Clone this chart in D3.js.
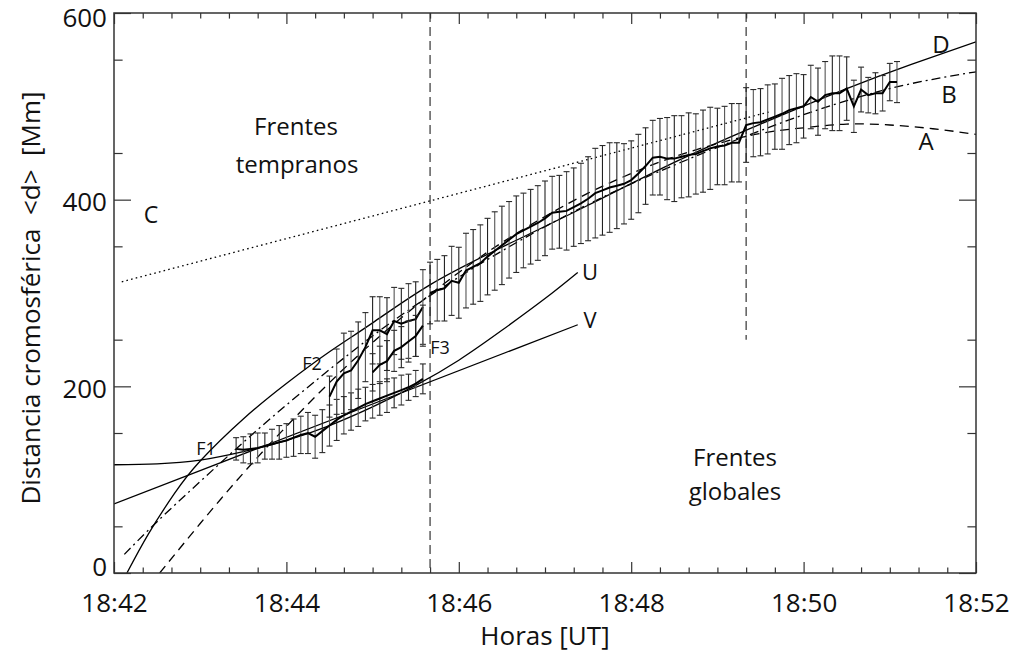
<!DOCTYPE html>
<html><head><meta charset="utf-8">
<script src="https://cdn.jsdelivr.net/npm/d3@7"></script>
<style>
body{margin:0;background:#fff;}
text{font-family:"Open Sans","Noto Sans",sans-serif;fill:#111;}
</style></head><body>
<svg id="chart" width="1021" height="654"></svg>
<script>
// ---------- data ----------
const xTickLabels = ["18:42","18:44","18:46","18:48","18:50","18:52"];
const xTickMinutes = [0,2,4,6,8,10];          // minutes after 18:42
const yTickValues = [0,200,400,600];

// global front (seconds after 18:42:00, Mm)
const globalTime = [220,225,230,235,240,245,250,255,260,265,270,275,280,285,290,295,300,305,310,315,320,325,330,335,340,345,350,355,360,365,370,375,380,385,390,395,400,405,410,415,420,425,430,435,440,445,450,455,460,465,470,475,480,485,490,495,500,505,510,515,520,525,530,535,540,545];
const globalDist = [300,303,305,313,311,324,328,332,339,345,351,357,363,367,371,375,380,386,387,388,392,396,401,407,410,413,415,417,421,428,436,445,446,444,444,446,448,449,452,455,457,458,461,461,480,482,483,486,489,492,496,498,500,510,505,512,514,514,519,500,518,512,514,514,526,526];
const globalErr  = [33,33,35,37,38,40,40,41,41,42,42,41,41,40,40,40,40,39,39,42,42,43,45,48,48,48,46,43,42,42,41,40,41,44,46,44,45,43,44,44,41,42,42,42,40,36,36,37,35,38,37,37,34,34,36,36,40,40,34,28,24,19,22,19,20,22];

// early fronts F1, F2, F3
const f1Time = [85,90,95,100,105,110,115,120,125,130,135,140,145,150,155,160,165,170,175,180,185,190,195,200,205,210,215];
const f1Dist = [133,132,133,134,136,138,140,142,145,148,150,146,152,158,164,169,173,177,181,184,187,190,193,196,199,203,208];
const f1Err  = [12,14,16,16,14,16,18,18,20,20,22,23,23,22,22,20,20,20,18,18,18,18,16,16,14,14,16];

const f2Time = [150,155,160,165,170,175,180,185,190,195,200,205,210,215];
const f2Dist = [189,205,214,217,228,242,260,260,256,270,267,270,272,285];
const f2Err  = [22,35,43,42,41,37,36,36,39,36,38,40,40,40];

const f3Time = [180,185,190,195,200,205,210,215];
const f3Dist = [215,223,227,238,242,248,254,265];
const f3Err  = [20,20,22,22,22,22,22,22];

// fitted curves (minutes after 18:42, Mm)
const fitAt = [0.53,1,1.5,2,2.5,3,3.5,4,4.5,5,5.5,6,6.5,7,7.5,8,8.5,9,9.5,10];
const fitAv = [0,53,107,157,204,247,286,322,354,382,407,428,446,460,471,477,481,480,476,470];
const fitBt = [0.12,0.5,1,1.5,2,2.5,3,3.5,4,4.5,5,5.5,6,6.5,7,7.5,8,8.5,9,9.5,10];
const fitBv = [20,55,98,140,180,218,254,287,317,345,371,395,417,437,456,474,491,506,519,529,537];
const fitCt = [0.09,7.6];
const fitCv = [312,494];
const fitDt = [0.15,0.4,0.7,1.0,1.5,2.0,2.5,3.0,3.67,4.5,5.5,6.5,7.5,8.5,9.25,10];
const fitDv = [0,42,85,120,165,203,237,268,309,349,394,440,481,519,545,569];
const fitUt = [0,0.5,1,1.5,2,2.5,3,3.5,4,4.5,5,5.38];
const fitUv = [116,117,121,130,142,158,178,201,228,260,294,322];
const fitVt = [0,5.38];
const fitVv = [74,266];

// vertical separators (seconds after 18:42) and their lower ends (Mm)
const sepTime = [220,440];
const sepBottom = [0,250];

// ---------- drawing ----------
const L=114,R=976,T=13,B=573;
const x=d3.scaleLinear().domain([0,10]).range([L,R]);
const y=d3.scaleLinear().domain([0,600]).range([B,T]);
const svg=d3.select("#chart");
svg.append("rect").attr("width",1021).attr("height",654).attr("fill","#fff");
svg.append("defs").append("clipPath").attr("id","plot")
  .append("rect").attr("x",L).attr("y",T).attr("width",R-L).attr("height",B-T);
const g=svg.append("g").attr("clip-path","url(#plot)");

// separators
sepTime.forEach((s,i)=>{
  g.append("line").attr("x1",x(s/60)).attr("x2",x(s/60))
   .attr("y1",y(600)).attr("y2",y(sepBottom[i]))
   .attr("stroke","#333").attr("stroke-width",1.2).attr("stroke-dasharray","9,5");
});

// fits
function fit(ts,vs,dash,curve){
  const pts=ts.map((t,i)=>[t,vs[i]]);
  g.append("path").datum(pts)
   .attr("d",d3.line().x(d=>x(d[0])).y(d=>y(d[1])).curve(curve||d3.curveNatural))
   .attr("fill","none").attr("stroke","#000").attr("stroke-width",1.3)
   .attr("stroke-dasharray",dash||null);
}
fit(fitCt,fitCv,"1.6,3.2",d3.curveLinear);
fit(fitAt,fitAv,"9,6");
fit(fitBt,fitBv,"9,4,2,4");
fit(fitDt,fitDv,null);
fit(fitUt,fitUv,null);
fit(fitVt,fitVv,null,d3.curveLinear);

// error bars + data lines
function series(ts,ds,es){
  const eb=g.append("g").attr("stroke","#2a2a2a").attr("stroke-width",1.1);
  ts.forEach((s,i)=>{
    const xx=x(s/60), y1=y(ds[i]-es[i]), y2=y(ds[i]+es[i]);
    eb.append("line").attr("x1",xx).attr("x2",xx).attr("y1",y1).attr("y2",y2)
      .attr("stroke",i%2?"#555":"#222");
    eb.append("line").attr("x1",xx-3).attr("x2",xx+3).attr("y1",y1).attr("y2",y1);
    eb.append("line").attr("x1",xx-3).attr("x2",xx+3).attr("y1",y2).attr("y2",y2);
  });
  g.append("path").datum(ts.map((s,i)=>[s/60,ds[i]]))
   .attr("d",d3.line().x(d=>x(d[0])).y(d=>y(d[1])))
   .attr("fill","none").attr("stroke","#000").attr("stroke-width",2);
}
series(f1Time,f1Dist,f1Err);
series(f2Time,f2Dist,f2Err);
series(f3Time,f3Dist,f3Err);
series(globalTime,globalDist,globalErr);

// axes
const minorX=d3.range(0,10.001,1/3).filter(v=>Math.abs(v/2-Math.round(v/2))>1e-6);
const minorY=d3.range(50,600,100);
function styleAxis(sel){
  sel.selectAll("line").attr("stroke","#333").attr("stroke-width",1.2);
  sel.selectAll("path").remove();
  sel.selectAll("text").style("font-size","26px").attr("fill","#111");
}
svg.append("g").attr("transform",`translate(0,${B})`)
  .call(d3.axisBottom(x).tickValues(xTickMinutes).tickSize(-11).tickSizeOuter(0).tickPadding(21)
        .tickFormat((d,i)=>xTickLabels[i])).call(styleAxis);
svg.append("g").attr("transform",`translate(0,${B})`)
  .call(d3.axisBottom(x).tickValues(minorX).tickSize(-5.6).tickFormat("")).call(styleAxis);
svg.append("g").attr("transform",`translate(0,${T})`)
  .call(d3.axisTop(x).tickValues(xTickMinutes).tickSize(-11).tickFormat("")).call(styleAxis);
svg.append("g").attr("transform",`translate(0,${T})`)
  .call(d3.axisTop(x).tickValues(minorX).tickSize(-5.6).tickFormat("")).call(styleAxis);
svg.append("g").attr("transform",`translate(${L},0)`)
  .call(d3.axisLeft(y).tickValues(yTickValues).tickSize(-17).tickPadding(7).tickFormat(d3.format("d")))
  .call(styleAxis)
  .call(s=>s.selectAll("text").attr("dy",d=>d===0?"0.1em":(d===600?"0.52em":"0.42em")));
svg.append("g").attr("transform",`translate(${L},0)`)
  .call(d3.axisLeft(y).tickValues(minorY).tickSize(-8.6).tickFormat("")).call(styleAxis);
svg.append("g").attr("transform",`translate(${R},0)`)
  .call(d3.axisRight(y).tickValues(yTickValues).tickSize(-17).tickFormat("")).call(styleAxis);
svg.append("g").attr("transform",`translate(${R},0)`)
  .call(d3.axisRight(y).tickValues(minorY).tickSize(-8.6).tickFormat("")).call(styleAxis);
svg.append("rect").attr("x",L).attr("y",T).attr("width",R-L).attr("height",B-T)
  .attr("fill","none").attr("stroke","#333").attr("stroke-width",1.5);

// titles
svg.append("text").attr("x",545).attr("y",645).attr("text-anchor","middle")
  .style("font-size","26px").text("Horas [UT]");
svg.append("text").attr("transform","translate(40,298) rotate(-90)").attr("text-anchor","middle")
  .style("font-size","26px").style("white-space","pre").text("Distancia cromosférica  <d>  [Mm]");

// annotations
const notes=[
  ["Frentes",296,135,24],["tempranos",297,173,24],
  ["Frentes",735,466,24],["globales",735,500,24],
  ["C",151,223,23],["D",941,53,24],["B",949,103,24],["A",926,150,24],
  ["U",590,280,22],["V",590,328,22],
  ["F1",206,455,18],["F2",312,370,18],["F3",440,354,18]
];
notes.forEach(n=>svg.append("text").attr("x",n[1]).attr("y",n[2]).attr("text-anchor","middle")
  .style("font-size",n[3]+"px").text(n[0]));
</script>
</body></html>
